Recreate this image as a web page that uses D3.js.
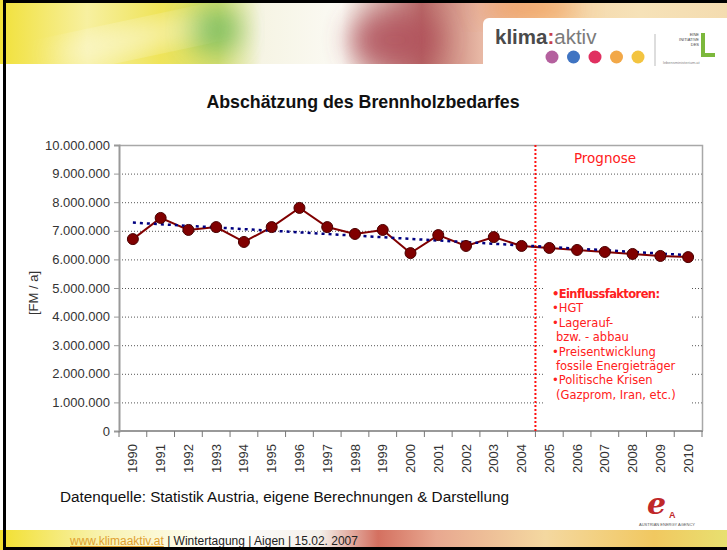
<!DOCTYPE html>
<html>
<head>
<meta charset="utf-8">
<script src="https://cdn.jsdelivr.net/npm/d3@7"></script>
<style>
  body { margin: 0; background: #fff; }
  svg { display: block; }
</style>
</head>
<body>
<svg width="727" height="550"></svg>
<script>
// data
var years = ['1990', '1991', '1992', '1993', '1994', '1995', '1996', '1997', '1998', '1999', '2000',
    '2001', '2002', '2003', '2004', '2005', '2006', '2007', '2008', '2009', '2010'];
var bedarf = [6710000, 7450000, 7030000, 7130000, 6610000, 7130000, 7800000, 7130000, 6890000, 7030000, 6220000,
    6850000, 6470000, 6780000, 6470000, 6400000, 6330000, 6260000, 6190000, 6120000, 6080000];
var yTicks = [0, 1000000, 2000000, 3000000, 4000000, 5000000, 6000000, 7000000, 8000000, 9000000, 10000000];
var prognoseAb = '2005';
var faktoren = [
    {t: '•Einflussfaktoren:', b: true},
    {t: '•HGT'},
    {t: '•Lagerauf-'},
    {t: ' bzw. - abbau', indent: true},
    {t: '•Preisentwicklung'},
    {t: ' fossile Energieträger', indent: true},
    {t: '•Politische Krisen'},
    {t: ' (Gazprom, Iran, etc.)', indent: true}
];
var logoDots = ['#b4609e', '#3f74c2', '#e03060', '#f2a848', '#f3c440'];

var svg = d3.select('svg');
var width = +svg.attr('width');
var height = +svg.attr('height');

var de = d3.formatLocale({decimal: ',', thousands: '.', grouping: [3], currency: ['', ' €']});
var fmt = de.format(',d');

var defs = svg.append('defs');
var blur = defs.append('filter').attr('id', 'blur')
    .attr('x', '-50%').attr('y', '-50%').attr('width', '200%').attr('height', '200%');
blur.append('feGaussianBlur').attr('stdDeviation', 14);

var topGrad = defs.append('linearGradient').attr('id', 'topGrad');
[['0%', '#f1e13a'], ['12%', '#f7f0a0'], ['22%', '#efe45a'], ['30%', '#d8df70'], ['36%', '#f6f4e4'],
 ['47%', '#fbfaf4'], ['53%', '#d9b8b0'], ['58%', '#b86a68'], ['66%', '#e7b7a4'], ['75%', '#f4d4a8'],
 ['88%', '#f6e2b8'], ['100%', '#f4dcb0']].forEach(function(s) {
    topGrad.append('stop').attr('offset', s[0]).attr('stop-color', s[1]);
});
var botGrad = defs.append('linearGradient').attr('id', 'botGrad');
[['0%', '#f2e030'], ['14%', '#f8f2b0'], ['30%', '#ffffff'], ['44%', '#f4f0ea'], ['52%', '#d47060'],
 ['60%', '#e8a890'], ['75%', '#f4d8a0'], ['90%', '#f1c860'], ['100%', '#e8e070']].forEach(function(s) {
    botGrad.append('stop').attr('offset', s[0]).attr('stop-color', s[1]);
});

// slide decoration
var deco = svg.append('g').attr('class', 'deco');
deco.append('rect').attr('x', 0).attr('y', 0).attr('width', width).attr('height', 66)
    .attr('fill', 'url(#topGrad)');
deco.append('ellipse').attr('cx', 215).attr('cy', 30).attr('rx', 25).attr('ry', 22)
    .attr('fill', '#62b45a').attr('filter', 'url(#blur)').attr('opacity', 0.8);
deco.append('ellipse').attr('cx', 395).attr('cy', 40).attr('rx', 45).attr('ry', 32)
    .attr('fill', '#b0505a').attr('filter', 'url(#blur)').attr('opacity', 0.85);
deco.append('ellipse').attr('cx', 530).attr('cy', 8).attr('rx', 50).attr('ry', 12)
    .attr('fill', '#f08a40').attr('filter', 'url(#blur)').attr('opacity', 0.8);
deco.append('ellipse').attr('cx', 130).attr('cy', 40).attr('rx', 80).attr('ry', 10)
    .attr('fill', '#ffffff').attr('filter', 'url(#blur)').attr('opacity', 0.7)
    .attr('transform', 'rotate(-12,130,40)');
deco.append('rect').attr('x', 0).attr('y', 64).attr('width', width).attr('height', 466).attr('fill', '#fff');
deco.append('rect').attr('x', 483).attr('y', 18).attr('width', 260).attr('height', 60).attr('rx', 6)
    .attr('fill', '#fff');
deco.append('rect').attr('x', 0).attr('y', 530).attr('width', width).attr('height', 20)
    .attr('fill', 'url(#botGrad)');

var logo = deco.append('text').attr('x', 495).attr('y', 44)
    .style('font-family', 'Liberation Sans, Arial, sans-serif').style('font-size', '20.5px').attr('fill', '#4a4a4a');
logo.append('tspan').text('klima').style('font-weight', 'bold');
logo.append('tspan').text(':').style('font-weight', 'bold').attr('fill', '#c8404a');
logo.append('tspan').text('aktiv').attr('fill', '#7a7a7a');
deco.selectAll('.dot').data(logoDots).enter().append('circle')
    .attr('class', 'dot')
    .attr('cx', function(d, i) { return 552 + i * 21.5; })
    .attr('cy', 57).attr('r', 6.5)
    .attr('fill', function(d) { return d; });
deco.append('line').attr('x1', 655).attr('x2', 655).attr('y1', 34).attr('y2', 66)
    .attr('stroke', '#bbb');
['EINE', 'INITIATIVE', 'DES'].forEach(function(t, i) {
    deco.append('text').attr('x', 699).attr('y', 36 + i * 5).attr('text-anchor', 'end')
        .style('font-family', 'Liberation Sans, Arial, sans-serif').style('font-size', '4px')
        .attr('fill', '#444').text(t);
});
deco.append('path').attr('d', 'M701,33 h4 v20 h10 v4 h-14 z').attr('fill', '#7cb83c');
deco.append('text').attr('x', 663).attr('y', 64)
    .style('font-family', 'Liberation Sans, Arial, sans-serif').style('font-size', '4px')
    .attr('fill', '#888').text('lebensministerium.at');

deco.append('text').attr('x', 647).attr('y', 514)
    .style('font-family', 'DejaVu Serif, serif').style('font-size', '30px')
    .style('font-style', 'italic').style('font-weight', 'bold')
    .attr('fill', '#c0282a').text('e');
deco.append('text').attr('x', 669).attr('y', 518)
    .style('font-family', 'Liberation Sans, Arial, sans-serif').style('font-size', '9px')
    .style('font-weight', 'bold').attr('fill', '#c0282a').text('A');
deco.append('text').attr('x', 667).attr('y', 526).attr('text-anchor', 'middle')
    .style('font-family', 'Liberation Sans, Arial, sans-serif').style('font-size', '4px')
    .attr('fill', '#555').text('AUSTRIAN ENERGY AGENCY');

var foot = deco.append('text').attr('x', 70).attr('y', 545)
    .style('font-family', 'Liberation Sans, Arial, sans-serif').style('font-size', '12px').attr('fill', '#222');
foot.append('tspan').text('www.klimaaktiv.at').attr('fill', '#e0a030').style('text-decoration', 'underline');
foot.append('tspan').text(' | Wintertagung | Aigen | 15.02. 2007');

deco.append('rect').attr('x', 4.5).attr('y', 1.5).attr('width', width + 10).attr('height', height - 3)
    .attr('fill', 'none').attr('stroke', '#000').attr('stroke-width', 3);

// chart
var plot = {left: 119, right: 702, top: 145, bottom: 431};

var x = d3.scaleBand().domain(years).range([plot.left, plot.right]);
var y = d3.scaleLinear().domain([0, 10000000]).range([plot.bottom, plot.top]);
var cx = function(d) { return x(d) + x.bandwidth() / 2; };

svg.append('text').attr('x', 363).attr('y', 108).attr('text-anchor', 'middle')
    .style('font-family', 'Liberation Sans, Arial, sans-serif').style('font-size', '17.8px')
    .style('font-weight', 'bold').attr('fill', '#111')
    .text('Abschätzung des Brennholzbedarfes');

var gridG = svg.append('g').attr('class', 'grid');
gridG.selectAll('line').data(yTicks.slice(1, -1)).enter().append('line')
    .attr('x1', plot.left).attr('x2', plot.right)
    .attr('y1', function(d) { return y(d) + 0.5; })
    .attr('y2', function(d) { return y(d) + 0.5; })
    .attr('stroke', '#555').attr('stroke-width', 1).attr('stroke-dasharray', '1,2');

// plot border (top/right)
svg.append('path')
    .attr('d', 'M' + plot.left + ',' + (plot.top + 0.5) + 'H' + (plot.right + 0.5) + 'V' + plot.bottom)
    .attr('fill', 'none').attr('stroke', '#a8a8a8').attr('stroke-width', 1.5);

// white box behind annotation
svg.append('rect').attr('x', 543).attr('y', 282).attr('width', 147).attr('height', 125).attr('fill', '#fff');

var yAxis = svg.append('g')
    .attr('transform', 'translate(' + plot.left + ',0)')
    .call(d3.axisLeft(y).tickValues(yTicks).tickFormat(fmt).tickSize(5).tickPadding(4));
yAxis.select('.domain').attr('stroke', '#999').attr('stroke-width', 2);
yAxis.selectAll('.tick line').attr('stroke', '#999');
yAxis.selectAll('text').attr('fill', '#333')
    .style('font-family', 'Liberation Sans, Arial, sans-serif').style('font-size', '13px');

var xAxis = svg.append('g')
    .attr('transform', 'translate(0,' + plot.bottom + ')')
    .call(d3.axisBottom(x).tickSize(0).tickPadding(0));
xAxis.select('.domain').remove();
xAxis.selectAll('text')
    .attr('fill', '#333')
    .style('font-family', 'Liberation Sans, Arial, sans-serif').style('font-size', '13px')
    .attr('text-anchor', 'end')
    .attr('dy', '0.35em')
    .attr('transform', 'translate(0,13) rotate(-90)');
var bounds = years.map(function(d) { return x(d); }).concat([plot.right]);
xAxis.append('line').attr('x1', plot.left).attr('x2', plot.right + 1).attr('y1', 0).attr('y2', 0)
    .attr('stroke', '#999').attr('stroke-width', 2);
xAxis.selectAll('.bound').data(bounds).enter().append('line')
    .attr('class', 'bound')
    .attr('x1', function(d) { return d; }).attr('x2', function(d) { return d; })
    .attr('y1', 0).attr('y2', 6)
    .attr('stroke', '#777');

svg.append('text')
    .attr('transform', 'translate(38,' + ((plot.top + plot.bottom) / 2 + 5) + ') rotate(-90)')
    .attr('text-anchor', 'middle')
    .style('font-family', 'Liberation Sans, Arial, sans-serif').style('font-size', '13px')
    .attr('fill', '#333').text('[FM / a]');

// prognosis divider
var xp = x(prognoseAb);
svg.append('line').attr('x1', xp).attr('x2', xp).attr('y1', plot.top).attr('y2', plot.bottom)
    .attr('stroke', '#ff1010').attr('stroke-width', 2).attr('stroke-dasharray', '2,2');
svg.append('text').attr('x', 605).attr('y', 163).attr('text-anchor', 'middle')
    .style('font-family', 'DejaVu Sans, Verdana, sans-serif').style('font-size', '13.5px')
    .attr('fill', '#ff2020').text('Prognose');

var ann = svg.append('g').attr('class', 'faktoren');
ann.selectAll('text').data(faktoren).enter().append('text')
    .attr('x', function(d) { return d.indent ? 556 : 552; })
    .attr('y', function(d, i) { return 298 + i * 14.4; })
    .style('font-family', 'DejaVu Sans, Verdana, sans-serif').style('font-size', '11.5px')
    .style('font-weight', function(d) { return d.b ? 'bold' : 'normal'; })
    .style('letter-spacing', function(d) { return d.b ? '-0.6px' : '0px'; })
    .attr('fill', '#ff2020')
    .text(function(d) { return d.t; });

// linear trend (least squares over the series)
var n = bedarf.length;
var mx = (n - 1) / 2;
var my = d3.mean(bedarf);
var slope = d3.sum(bedarf, function(v, i) { return (i - mx) * (v - my); }) /
    d3.sum(bedarf, function(v, i) { return (i - mx) * (i - mx); });
var trend = [0, n - 1].map(function(i) { return {year: years[i], v: my + slope * (i - mx)}; });

var line = d3.line()
    .x(function(d) { return cx(d.year); })
    .y(function(d) { return y(d.v); });

var series = years.map(function(d, i) { return {year: d, v: bedarf[i]}; });

svg.append('path').datum(series)
    .attr('d', line)
    .attr('fill', 'none').attr('stroke', '#800000').attr('stroke-width', 2);

svg.append('path').datum(trend)
    .attr('d', line)
    .attr('fill', 'none').attr('stroke', '#000080').attr('stroke-width', 2.5)
    .attr('stroke-dasharray', '3,4');

svg.selectAll('.pt').data(series).enter().append('circle')
    .attr('class', 'pt')
    .attr('cx', function(d) { return cx(d.year); })
    .attr('cy', function(d) { return y(d.v); })
    .attr('r', 5.5)
    .attr('fill', '#800000').attr('stroke', '#4a0000').attr('stroke-width', 1);

svg.append('text').attr('x', 60).attr('y', 502)
    .style('font-family', 'Liberation Sans, Arial, sans-serif').style('font-size', '15.3px')
    .attr('fill', '#111')
    .text('Datenquelle: Statistik Austria, eigene Berechnungen & Darstellung');
</script>
</body>
</html>
